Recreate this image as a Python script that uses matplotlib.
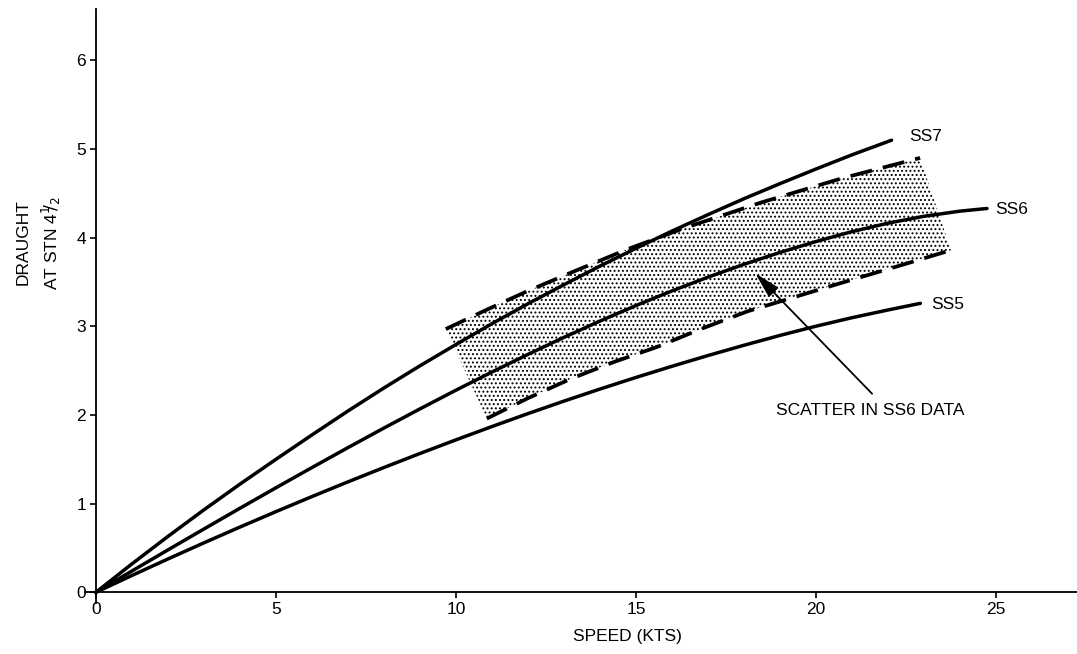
import matplotlib
matplotlib.use('Agg')
import matplotlib.pyplot as plt

plt.rcParams['font.family'] = ['Liberation Sans', 'DejaVu Sans']
plt.rcParams['hatch.linewidth'] = 0.9
plt.rcParams['lines.scale_dashes'] = False

# speed (kts) vs draught
ss7_x = [0, 1, 2, 3, 4, 5, 6, 7, 8, 9, 10, 11, 12, 13, 14, 15, 16, 17, 18, 19, 20, 21, 22.1]
ss7_y = [0, 0.32, 0.63, 0.93, 1.22, 1.50, 1.775, 2.045, 2.305, 2.555, 2.795, 3.03, 3.255,
         3.47, 3.68, 3.88, 4.075, 4.26, 4.44, 4.61, 4.775, 4.935, 5.10]

ss6_x = [0, 1, 2, 3, 4, 5, 6, 7, 8, 9, 10, 11, 12, 13, 14, 15, 16, 17, 18, 19, 20, 21, 22,
         23, 24, 24.75]
ss6_y = [0, 0.24, 0.478, 0.714, 0.948, 1.179, 1.407, 1.632, 1.853, 2.069, 2.28, 2.485, 2.684,
         2.876, 3.06, 3.235, 3.40, 3.555, 3.70, 3.834, 3.957, 4.069, 4.164, 4.242, 4.30, 4.33]

ss5_x = [0, 1, 2, 3, 4, 5, 6, 7, 8, 9, 10, 11, 12, 13, 14, 15, 16, 17, 18, 19, 20, 21, 22,
         22.9]
ss5_y = [0, 0.19, 0.376, 0.558, 0.736, 0.91, 1.08, 1.246, 1.408, 1.566, 1.72, 1.87, 2.016,
         2.157, 2.293, 2.424, 2.55, 2.671, 2.787, 2.898, 3.002, 3.098, 3.185, 3.26]

# scatter band for SS6
upper_x = [9.72, 10.92, 12.0, 13.22, 14.7, 16.28, 18.5, 20.72, 22.89]
upper_y = [2.97, 3.20, 3.40, 3.61, 3.86, 4.10, 4.40, 4.67, 4.90]
lower_x = [10.86, 12.0, 13.2, 14.4, 15.6, 16.8, 18.1, 19.4, 20.7, 22.2, 23.75]
lower_y = [1.96, 2.19, 2.41, 2.60, 2.77, 2.97, 3.17, 3.33, 3.49, 3.67, 3.86]

fig = plt.figure(figsize=(10.77, 6.54), dpi=100)
ax = fig.add_axes([85 / 1077, 51 / 654, 992 / 1077, 594 / 654])

# stippled band
band_x = upper_x + lower_x[::-1]
band_y = upper_y + lower_y[::-1]
ax.fill(band_x, band_y, facecolor='none', edgecolor='black', linewidth=0, hatch='....')

ax.plot(upper_x, upper_y, color='black', lw=2.7, dashes=(16, 8))
ax.plot(lower_x, lower_y, color='black', lw=2.7, dashes=(16, 8))

for xs, ys in [(ss7_x, ss7_y), (ss6_x, ss6_y), (ss5_x, ss5_y)]:
    ax.plot(xs, ys, color='black', lw=2.5, solid_capstyle='round', solid_joinstyle='round')

ax.text(22.58, 5.14, 'SS7', fontsize=12.5, ha='left', va='center')
ax.text(24.97, 4.32, 'SS6', fontsize=12.5, ha='left', va='center')
ax.text(23.19, 3.25, 'SS5', fontsize=12.5, ha='left', va='center')

ax.annotate('', xy=(18.31, 3.60), xytext=(21.56, 2.24),
            arrowprops=dict(arrowstyle='-|>,head_length=1.0,head_width=0.25',
                            lw=1.3, color='black', mutation_scale=16,
                            shrinkA=0, shrinkB=0))
ax.text(21.5, 2.05, 'SCATTER IN SS6 DATA', fontsize=12.5, ha='center', va='center')

ax.set_xlim(-0.3, 27.25)
ax.set_ylim(-0.12, 6.58)
ax.spines['left'].set_position(('data', 0))
ax.spines['bottom'].set_position(('data', 0))
ax.spines['right'].set_visible(False)
ax.spines['top'].set_visible(False)
for s in ['left', 'bottom']:
    ax.spines[s].set_linewidth(1.3)

ax.set_xticks([0, 5, 10, 15, 20, 25])
ax.set_yticks([0, 1, 2, 3, 4, 5, 6])
ax.tick_params(axis='both', direction='out', length=4.5, width=1.2, labelsize=12.5, pad=2.5)

ax.set_xlabel('SPEED (KTS)', fontsize=12.5)
ax.xaxis.set_label_coords((627 - 85) / 992, -(637 - 603) / 594)
ax.xaxis.label.set_va('center')

fig.text(23 / 1077, 1 - 242 / 654, 'DRAUGHT', rotation=90, fontsize=12.5, ha='center', va='center')
fig.text(51 / 1077, 1 - 243 / 654, 'AT STN 4$^{1}\\!\\!/_{2}$', rotation=90, fontsize=12.5,
         ha='center', va='center')

fig.savefig('out.png', dpi=100)
